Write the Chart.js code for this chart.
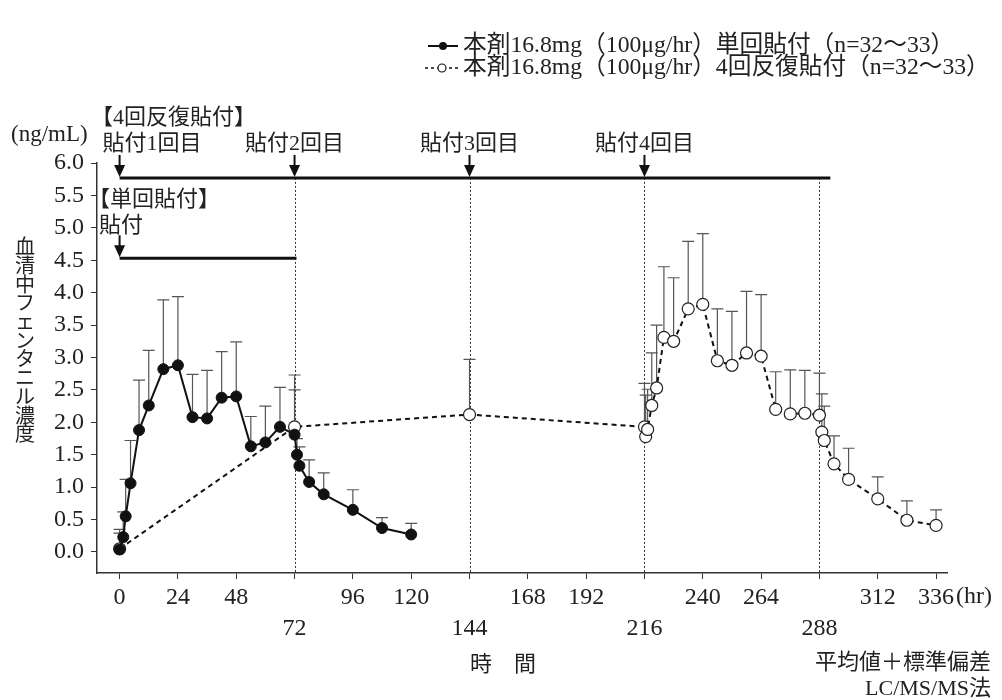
<!DOCTYPE html>
<html><head><meta charset="utf-8">
<script src="https://cdn.jsdelivr.net/npm/chart.js@4.4.1/dist/chart.umd.min.js"></script>
<style>html,body{margin:0;padding:0;background:#fff;}#wrap{width:1002px;height:700px;}</style>
</head><body><div id="wrap"><canvas id="c" width="1002" height="700"></canvas></div>
<script>
// ---- data ----
const singleTimes = [0,1.5,2.5,4.5,8,12,18,24,30,36,42,48,54,60,66,72,73,74,78,84,96,108,120];
const singleMean  = [0.04,0.23,0.55,1.06,1.88,2.26,2.82,2.88,2.08,2.06,2.38,2.40,1.63,1.69,1.93,1.81,1.50,1.33,1.08,0.89,0.65,0.37,0.27];
const singleSD    = [0.31,0.39,0.57,0.66,0.77,0.85,1.07,1.06,0.66,0.74,0.71,0.84,0.46,0.56,0.61,0.69,0.25,0.29,0.34,0.33,0.31,0.16,0.17];
const repeatTimes = [0,72,144,216,216.5,217.3,219,221,224,228,234,240,246,252,258,264,270,276,282,288,289,290,294,300,312,324,336];
const repeatMean  = [0.05,1.93,2.12,1.93,1.78,1.89,2.26,2.53,3.31,3.25,3.75,3.82,2.95,2.88,3.07,3.02,2.20,2.13,2.14,2.11,1.85,1.72,1.36,1.12,0.82,0.49,0.41];
const repeatSD    = [0.24,0.80,0.85,0.67,0.64,0.62,0.81,0.97,1.09,0.98,1.04,1.09,0.80,0.83,0.95,0.95,0.58,0.68,0.66,0.65,0.59,0.53,0.43,0.48,0.34,0.30,0.24];
const xTickValues = [0,24,48,72,96,120,144,168,192,216,240,264,288,312,336];
const xLowerRowTicks = [72,144,216,288];
const yTickValues = [0,0.5,1,1.5,2,2.5,3,3.5,4,4.5,5,5.5,6];
const repeatDoseTimes  = [0,72,144,216];
const repeatDoseLabels = ['貼付1回目','貼付2回目','貼付3回目','貼付4回目'];
const repeatBarRange = [0,292.5];
const repeatBarLevel = 5.77;
const singleDoseTimes = [0];
const singleBarRange = [0,72.8];
const singleBarLevel = 4.53;
const guideTimes = [72,144,216,288];
const legendLabels = ['本剤16.8mg（100μg/hr）単回貼付（n=32～33）','本剤16.8mg（100μg/hr）4回反復貼付（n=32～33）'];
const yTitle = '血清中フェンタニル濃度';
const yUnit = '(ng/mL)';
const xTitle = '時　間';
const xUnit = '(hr)';
const notes = ['平均値＋標準偏差','LC/MS/MS法'];

const FONT = "'Liberation Serif','Noto Sans CJK JP',serif";
const INK = '#222';

function pts(t, v){ return t.map((x,i)=>({x:x, y:v[i]})); }

function drawErr(ctx, x, y, times, mean, sd){
  ctx.strokeStyle = '#555'; ctx.lineWidth = 1.2; ctx.setLineDash([]);
  times.forEach((t,i)=>{
    const px = x.getPixelForValue(t);
    const p0 = y.getPixelForValue(mean[i]);
    const p1 = y.getPixelForValue(mean[i]+sd[i]);
    ctx.beginPath();
    ctx.moveTo(px,p0); ctx.lineTo(px,p1);
    ctx.moveTo(px-6,p1); ctx.lineTo(px+6,p1);
    ctx.stroke();
  });
}
function txt(ctx, s, px, py, align, size){
  ctx.font = size+'px '+FONT; ctx.textAlign = align; ctx.textBaseline = 'middle';
  ctx.fillStyle = INK; ctx.fillText(s, px, py);
}
function arrow(ctx, px, tip){
  ctx.strokeStyle = '#111'; ctx.fillStyle = '#111'; ctx.lineWidth = 2; ctx.setLineDash([]);
  ctx.beginPath(); ctx.moveTo(px, tip-22); ctx.lineTo(px, tip-10); ctx.stroke();
  ctx.beginPath(); ctx.moveTo(px-5.5, tip-12); ctx.lineTo(px+5.5, tip-12); ctx.lineTo(px, tip); ctx.closePath(); ctx.fill();
}

const annot = {
  id:'annot',
  beforeDatasetsDraw(chart){
    const {ctx, scales:{x,y}, chartArea} = chart;
    ctx.save();
    ctx.strokeStyle = '#333'; ctx.lineWidth = 1; ctx.setLineDash([2,2]);
    const top = y.getPixelForValue(repeatBarLevel);
    guideTimes.forEach(t=>{
      const px = Math.round(x.getPixelForValue(t))+0.5;
      ctx.beginPath(); ctx.moveTo(px, top); ctx.lineTo(px, chartArea.bottom); ctx.stroke();
    });
    drawErr(ctx, x, y, repeatTimes, repeatMean, repeatSD);
    drawErr(ctx, x, y, singleTimes, singleMean, singleSD);
    ctx.restore();
  },
  afterDraw(chart){
    const {ctx, scales:{x,y}} = chart;
    ctx.save();
    const rb = y.getPixelForValue(repeatBarLevel);
    const sb = y.getPixelForValue(singleBarLevel);
    ctx.strokeStyle = '#111'; ctx.lineWidth = 3; ctx.setLineDash([]);
    ctx.beginPath(); ctx.moveTo(x.getPixelForValue(repeatBarRange[0]), rb); ctx.lineTo(x.getPixelForValue(repeatBarRange[1]), rb); ctx.stroke();
    ctx.beginPath(); ctx.moveTo(x.getPixelForValue(singleBarRange[0]), sb); ctx.lineTo(x.getPixelForValue(singleBarRange[1]), sb); ctx.stroke();
    repeatDoseTimes.forEach((t,i)=>{
      const px = x.getPixelForValue(t);
      arrow(ctx, px, rb-1);
      if(i===0) txt(ctx, repeatDoseLabels[i], px-17, rb-34, 'left', 22);
      else txt(ctx, repeatDoseLabels[i], px, rb-34, 'center', 22);
    });
    singleDoseTimes.forEach(t=>{ arrow(ctx, x.getPixelForValue(t), sb-1); });
    txt(ctx, '【4回反復貼付】', 91, 118, 'left', 22);
    txt(ctx, '【単回貼付】', 88, 200, 'left', 22);
    txt(ctx, '貼付', 99, 226, 'left', 22);
    txt(ctx, yUnit, 11, 135, 'left', 23);
    yTitle.split('').forEach((ch,i)=> txt(ctx, ch, 25, 249 + i*18.7, 'center', 20));
    txt(ctx, xTitle, 503, 665, 'center', 22);
    txt(ctx, xUnit, x.getPixelForValue(336)+20, 597, 'left', 24);
    txt(ctx, notes[0], 991, 663, 'right', 22);
    txt(ctx, notes[1], 991, 689, 'right', 22);
    // legend
    ctx.lineWidth = 2; ctx.strokeStyle = '#111'; ctx.setLineDash([]);
    ctx.beginPath(); ctx.moveTo(428,46); ctx.lineTo(458,46); ctx.stroke();
    ctx.fillStyle = '#111'; ctx.beginPath(); ctx.arc(443,46,4,0,Math.PI*2); ctx.fill();
    ctx.setLineDash([3,3]); ctx.lineWidth = 1.5;
    ctx.beginPath(); ctx.moveTo(425,68); ctx.lineTo(460,68); ctx.stroke();
    ctx.setLineDash([]);
    ctx.fillStyle = '#fff'; ctx.lineWidth = 1.2; ctx.beginPath(); ctx.arc(442,68,4,0,Math.PI*2); ctx.fill(); ctx.stroke();
    txt(ctx, legendLabels[0], 463, 46, 'left', 23.7);
    txt(ctx, legendLabels[1], 463, 68, 'left', 23.7);
    ctx.restore();
  }
};

new Chart(document.getElementById('c'), {
  type:'line',
  data:{
    datasets:[
      { label:'単回貼付', data:pts(singleTimes, singleMean), borderColor:'#111', borderWidth:2,
        pointRadius:5.5, pointBackgroundColor:'#111', pointBorderColor:'#111', pointBorderWidth:1, tension:0 },
      { label:'4回反復貼付', data:pts(repeatTimes, repeatMean), borderColor:'#111', borderWidth:2, borderDash:[5,4],
        pointRadius:6, pointBackgroundColor:'#fff', pointBorderColor:'#222', pointBorderWidth:1.2, tension:0 }
    ]
  },
  options:{
    responsive:false, animation:false, devicePixelRatio:1,
    layout:{ padding:{ top:163, right:55, left:0, bottom:0 } },
    plugins:{ legend:{display:false}, tooltip:{enabled:false} },
    scales:{
      x:{ type:'linear', min:-9.3, max:340.5,
        afterBuildTicks: s => { s.ticks = xTickValues.map(v=>({value:v})); },
        afterFit: s => { s.height = 127; },
        ticks:{ autoSkip:false, maxRotation:0, padding:3, color:INK,
          font:{ family:FONT, size:24, lineHeight:1.3 },
          callback: v => xLowerRowTicks.includes(v) ? ['', String(v)] : String(v) },
        grid:{ drawOnChartArea:false, drawTicks:true, tickLength:6, color:'#333', lineWidth:1 },
        border:{ color:'#333', width:1.5 } },
      y:{ type:'linear', min:-0.324, max:6.0,
        afterBuildTicks: s => { s.ticks = yTickValues.map(v=>({value:v})); },
        afterFit: s => { s.width = 97; },
        ticks:{ padding:7, color:INK, font:{ family:FONT, size:24 }, callback: v => Number(v).toFixed(1) },
        grid:{ drawOnChartArea:false, drawTicks:true, tickLength:6, color:'#333', lineWidth:1 },
        border:{ color:'#333', width:1.5 } }
    }
  },
  plugins:[annot]
});
</script></body></html>
